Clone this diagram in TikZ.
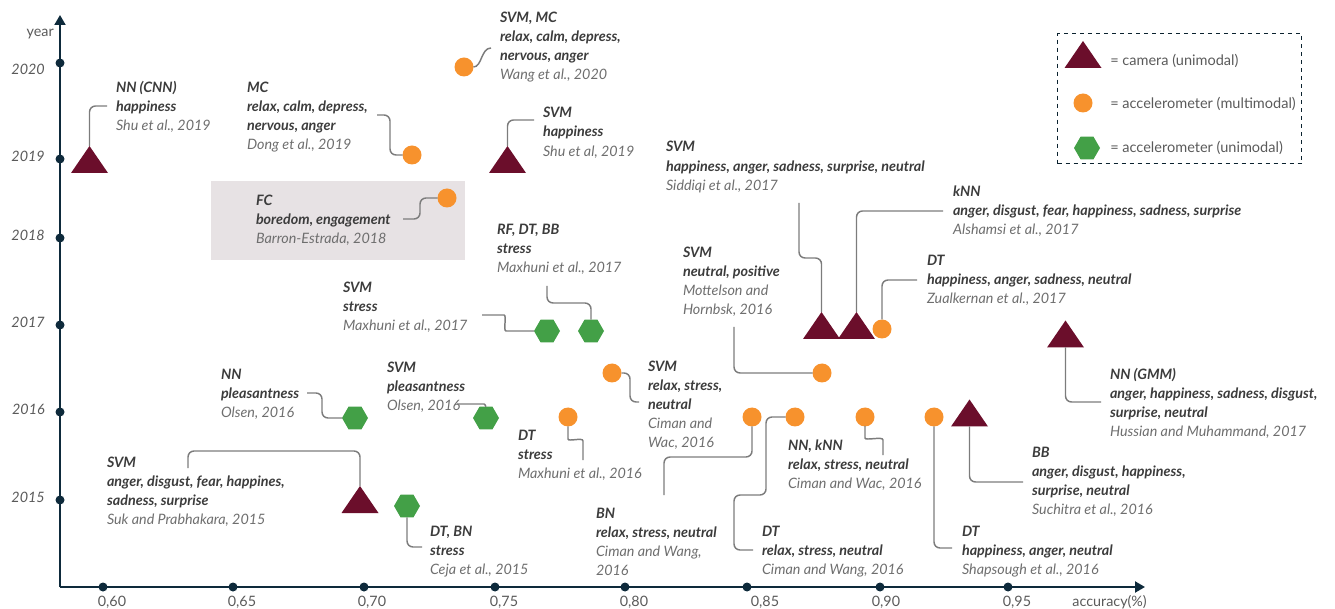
\documentclass[tikz,border=0pt]{standalone}
\usepackage{fontspec}
\setmainfont{Lato}
\usetikzlibrary{arrows.meta,shapes.geometric}
\definecolor{camera}{HTML}{6B0E2B}
\definecolor{accorange}{HTML}{F7922D}
\definecolor{accgreen}{HTML}{43A047}
\definecolor{axiscol}{HTML}{0E2A3B}
\definecolor{linegray}{HTML}{7C7C7C}
\definecolor{txtdark}{HTML}{3C3C3C}
\definecolor{txtcite}{HTML}{6E6E6E}
\definecolor{axtxt}{HTML}{5A5A5A}
\definecolor{boxgray}{HTML}{E7E2E4}
\newcommand\labhd[1]{\textcolor{txtdark}{\bfseries #1}}
\newcommand\labct[1]{\textcolor{txtcite}{#1}}
\begin{document}
\begin{tikzpicture}[x=0.75pt,y=-0.75pt,
  lab/.style={anchor=north west, inner sep=0pt, outer sep=0pt, align=left, yshift=-1.9pt,
    font=\fontsize{10.75}{14.25}\selectfont\itshape, execute at begin node=\strut},
  cam/.style={minimum width=27.75pt, minimum height=20.25pt, inner sep=0pt, outer sep=0pt},
  accm/.style={circle, fill=accorange, minimum size=14.25pt, inner sep=0pt, outer sep=0pt},
  accu/.style={regular polygon, regular polygon sides=6, fill=accgreen, minimum size=19.5pt, inner sep=0pt, outer sep=0pt},
  conn/.style={draw=linegray, line width=1.1pt, rounded corners=4.5pt},
  axisline/.style={draw=axiscol, line width=1.5pt, -{Triangle[length=7.5pt,width=8.25pt]}},
  tickdot/.style={circle, fill=axiscol, minimum size=6.75pt, inner sep=0pt},
  yearlab/.style={anchor=east, inner sep=0pt, text=axtxt, font=\fontsize{10.75}{13}\selectfont\itshape},
  xlab/.style={anchor=base, inner sep=0pt, text=axtxt, font=\fontsize{10.75}{13}\selectfont},
  legtxt/.style={anchor=west, inner sep=0pt, text=axtxt, font=\fontsize{10.9}{13}\selectfont}
]
\useasboundingbox (0,0) rectangle (1335,609);

% axes
\coordinate (O) at (60,587);
\coordinate (Ytop) at (60,15);
\coordinate (Xend) at (1145,587);
\draw[axisline] (O) -- (Ytop);
\draw[axisline] (O) -- (Xend);
\node[anchor=east, inner sep=0pt, text=axtxt, font=\fontsize{10.75}{13}\selectfont] (yearlbl) at (54,34) {year};
\node[anchor=base east, inner sep=0pt, text=axtxt, font=\fontsize{10.75}{13}\selectfont] (acclbl) at (1147,606) {accuracy(\%)};

\foreach \yy/\lab/\ly [count=\i] in {63/2020/69,159/2019/156,238/2018/235,325/2017/322,412/2016/409,500/2015/497}{
  \node[tickdot] (yt\i) at (60,\yy) {};
  \node[yearlab] (yl\i) at (45,\ly) {\lab};
}
\foreach \xx/\lab/\lx [count=\i] in {103/0{,}60/112,233/0{,}65/242,364/0{,}70/372,495/0{,}75/504,625/0{,}80/634,747/0{,}85/765,880/0{,}90/886,1008/0{,}95/1017}{
  \node[tickdot] (xt\i) at (\xx,587) {};
  \node[xlab] (xl\i) at (\lx,606) {\lab};
}

% gray box
\node[fill=boxgray, anchor=north west, minimum width=190.5pt, minimum height=59.25pt, inner sep=0pt] (fcbox) at (211,181) {};

% camera markers
\node[cam] (t1) at (89.5,159.5) {};
\node[cam] (t2) at (507.5,159.5) {};
\node[cam] (t3) at (821.5,325.5) {};
\node[cam] (t4) at (856.5,325.5) {};
\node[cam] (t5) at (1065.5,334) {};
\node[cam] (t6) at (969.5,413) {};
\node[cam] (t7) at (360,499.5) {};
\node[cam] (tL) at (1083,54.5) {};
\foreach \t in {t1,t2,t3,t4,t5,t6,t7,tL}
  \fill[camera] (\t.south west) -- (\t.south east) -- (\t.north) -- cycle;

% accelerometer multimodal
\node[accm] (o2) at (412,155) {};
\node[accm] (o3) at (464,67) {};
\node[accm] (o5) at (447,198) {};
\node[accm] (o8) at (882,329) {};
\node[accm] (o10) at (822,373) {};
\node[accm] (o12) at (612,373) {};
\node[accm] (o16) at (568,417) {};
\node[accm] (o20) at (752,417) {};
\node[accm] (o21) at (795,417) {};
\node[accm] (o17) at (865,417) {};
\node[accm] (o23) at (934,417) {};
\node[accm] (oL) at (1083,103) {};

% accelerometer unimodal
\node[accu] (h1) at (355,418) {};
\node[accu] (h2) at (486,418) {};
\node[accu] (h3) at (547,331) {};
\node[accu] (h4) at (591,331) {};
\node[accu] (h5) at (407,506) {};
\node[accu] (hL) at (1087,148) {};

% legend
\node[draw=axiscol!80!black, dashed, line width=0.8pt, anchor=north west, minimum width=183pt, minimum height=97.5pt, inner sep=0pt] (legend) at (1057,33) {};
\node[legtxt] (lg1) at (1110,61) {= camera (unimodal)};
\node[legtxt] (lg2) at (1110,104) {= accelerometer (multimodal)};
\node[legtxt] (lg3) at (1110,148) {= accelerometer (unimodal)};

% labels
\node[lab] (l1) at (116,79) {\labhd{NN (CNN)}\\\labhd{happiness}\\\labct{Shu et al., 2019}};
\node[lab] (l2) at (247,79) {\labhd{MC}\\\labhd{relax, calm, depress,}\\\labhd{nervous, anger}\\\labct{Dong et al., 2019}};
\node[lab] (l3) at (500,9) {\labhd{SVM, MC}\\\labhd{relax, calm, depress,}\\\labhd{nervous, anger}\\\labct{Wang et al., 2020}};
\node[lab] (l4) at (543,105) {\labhd{SVM}\\\labhd{happiness}\\\labct{Shu et al, 2019}};
\node[lab] (l5) at (256,192) {\labhd{FC}\\\labhd{boredom, engagement}\\\labct{Barron-Estrada, 2018}};
\node[lab] (l6) at (666,139) {\labhd{SVM}\\\labhd{happiness, anger, sadness, surprise, neutral}\\\labct{Siddiqi et al., 2017}};
\node[lab] (l7) at (953,183) {\labhd{kNN}\\\labhd{anger, disgust, fear, happiness, sadness, surprise}\\\labct{Alshamsi et al., 2017}};
\node[lab] (l8) at (497,222) {\labhd{RF, DT, BB}\\\labhd{stress}\\\labct{Maxhuni et al., 2017}};
\node[lab] (l9) at (683,244) {\labhd{SVM}\\\labhd{neutral, positive}\\\labct{Mottelson and}\\\labct{Hornbsk, 2016}};
\node[lab] (l10) at (927,253) {\labhd{DT}\\\labhd{happiness, anger, sadness, neutral}\\\labct{Zualkernan et al., 2017}};
\node[lab] (l11) at (343,279) {\labhd{SVM}\\\labhd{stress}\\\labct{Maxhuni et al., 2017}};
\node[lab] (l12) at (648,358) {\labhd{SVM}\\\labhd{relax, stress,}\\\labhd{neutral}\\\labct{Ciman and}\\\labct{Wac, 2016}};
\node[lab] (l13) at (221,367) {\labhd{NN}\\\labhd{pleasantness}\\\labct{Olsen, 2016}};
\node[lab] (l14) at (387,359) {\labhd{SVM}\\\labhd{pleasantness}\\\labct{Olsen, 2016}};
\node[lab] (l15) at (1110,366) {\labhd{NN (GMM)}\\\labhd{anger, happiness, sadness, disgust,}\\\labhd{surprise, neutral}\\\labct{Hussian and Muhammand, 2017}};
\node[lab] (l16) at (518,428) {\labhd{DT}\\\labhd{stress}\\\labct{Maxhuni et al., 2016}};
\node[lab] (l17) at (788,437) {\labhd{NN, kNN}\\\labhd{relax, stress, neutral}\\\labct{Ciman and Wac, 2016}};
\node[lab] (l18) at (1032,445) {\labhd{BB}\\\labhd{anger, disgust, happiness,}\\\labhd{surprise, neutral}\\\labct{Suchitra et al., 2016}};
\node[lab] (l19) at (107,454) {\labhd{SVM}\\\labhd{anger, disgust, fear, happines,}\\\labhd{sadness, surprise}\\\labct{Suk and Prabhakara, 2015}};
\node[lab] (l20) at (596,506) {\labhd{BN}\\\labhd{relax, stress, neutral}\\\labct{Ciman and Wang,}\\\labct{2016}};
\node[lab] (l21) at (762,524) {\labhd{DT}\\\labhd{relax, stress, neutral}\\\labct{Ciman and Wang, 2016}};
\node[lab] (l22) at (430,524) {\labhd{DT, BN}\\\labhd{stress}\\\labct{Ceja et al., 2015}};
\node[lab] (l23) at (962,524) {\labhd{DT}\\\labhd{happiness, anger, neutral}\\\labct{Shapsough et al., 2016}};

% connector free ends
\coordinate (c1) at (107,106);
\coordinate (c2) at (377,115);
\coordinate (c3) at (491,48);
\coordinate (c4) at (534,120);
\coordinate (c5) at (403,219);
\coordinate (c6) at (799,203);
\coordinate (c7) at (943,211);
\coordinate (c8) at (917,280);
\coordinate (c9) at (547,286);
\coordinate (c10) at (734,327);
\coordinate (c11) at (482,315);
\coordinate (c12) at (639,402);
\coordinate (c13) at (307,393);
\coordinate (c14) at (457,404);
\coordinate (c15) at (1101,402);
\coordinate (c16) at (583,460);
\coordinate (c17) at (883,455);
\coordinate (c18) at (1023,482);
\coordinate (c19) at (188,468);
\coordinate (c20) at (664,495);
\coordinate (c21) at (753,550);
\coordinate (c22) at (422,547);
\coordinate (c23) at (952,548);

% connectors
\draw[conn] (t1.north) |- (c1);
\draw[conn] (c2) -- (390,115) -- (390,155) -- (o2.west);
\draw[conn] (o3.east) .. controls (482,67) and (481,48) .. (c3);
\draw[conn] (t2.north) |- (c4);
\draw[conn] (c5) -- (420,219) -- (420,198) -- (o5.west);
\draw[conn] (c6) -- (799,258) -| (t3.north);
\draw[conn] (t4.north) |- (c7);
\draw[conn] (o8.north) |- (c8);
\draw[conn] (c9) -- (547,303) -| (h4.north);
\draw[conn] (c10) |- (o10.west);
\draw[conn] (c11) -- (498,315) .. controls (507,315) and (503,331) .. (512,331) -- (h3.west);
\draw[conn] (o12.east) -- (630,373) -- (630,402) -- (c12);
\draw[conn] (c13) -- (322,393) -- (322,418) -- (h1.west);
\draw[conn] (c14) -- (478,404) .. controls (484,404) and (486,405) .. (h2.north);
\draw[conn] (t5.south) |- (c15);
\draw[conn] (o16.south) -- (568,433) .. controls (568,442) and (583,437) .. (583,447) -- (c16);
\draw[conn] (o17.south) -- (865,432) .. controls (865,441) and (883,436) .. (883,446) -- (c17);
\draw[conn] (t6.south) |- (c18);
\draw[conn] (c19) -- (188,451) -| (t7.north);
\draw[conn] (o20.south) -- (752,457) -| (c20);
\draw[conn] (o21.west) -- (766,417) -- (766,495) -- (734,495) -- (734,550) -- (c21);
\draw[conn] (h5.south) |- (c22);
\draw[conn] (o23.south) |- (c23);
\end{tikzpicture}
\end{document}
